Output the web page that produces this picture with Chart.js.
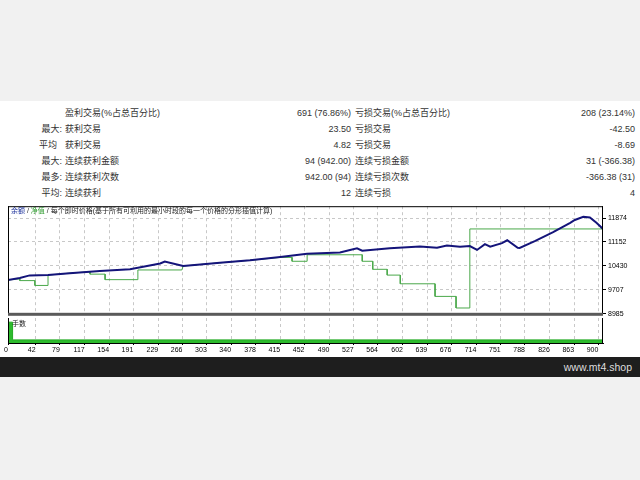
<!DOCTYPE html>
<html>
<head>
<meta charset="utf-8">
<script src="https://cdn.jsdelivr.net/npm/chart.js@4"></script>
<style>
body { margin: 0; width: 640px; height: 480px; background: #f1f1f1; position: relative; overflow: hidden;
       font-family: "Liberation Sans", "Noto Sans CJK SC", sans-serif; }
#panel { position: absolute; left: 0; top: 101px; width: 640px; height: 256px; background: #fff; }
.row { position: absolute; left: 0; width: 640px; height: 16px; line-height: 16px; font-size: 9px; color: #333; }
.row span { position: absolute; top: 0; white-space: nowrap; }
canvas { position: absolute; left: 0; }
#title { position: absolute; left: 11px; top: 206px; font-size: 7px; line-height: 10px; color: #222; white-space: nowrap; }
#lotsLabel { position: absolute; left: 12px; top: 319px; font-size: 7px; line-height: 10px; color: #222; }
#footer { position: absolute; left: 0; top: 357px; width: 640px; height: 20px; background: #1e1e1e; }
#footer span { position: absolute; right: 8px; top: 0; line-height: 20px; font-size: 10.5px; color: #ddd; }
</style>
</head>
<body>
<div id="panel"></div>
<div id="stats"></div>
<canvas id="mainChart" width="640" height="120" style="top:200px"></canvas>
<canvas id="lotsChart" width="640" height="40" style="top:317px"></canvas>
<div id="title"><span style="color:#1a2f9a">余额</span> / <span style="color:#2e9a2e">净值</span> / 每个即时价格(基于所有可利用的最小时段的每一个价格的分形插值计算)</div>
<div id="lotsLabel">手数</div>
<div id="footer"><span>www.mt4.shop</span></div>

<script>
// 统计表
const statRows = [
  ['', '盈利交易(%占总百分比)', '691 (76.86%)', '亏损交易(%占总百分比)', '208 (23.14%)'],
  ['最大:', '获利交易', '23.50', '亏损交易', '-42.50'],
  ['平均\u00a0\u00a0', '获利交易', '4.82', '亏损交易', '-8.69'],
  ['最大:', '连续获利金额', '94 (942.00)', '连续亏损金额', '31 (-366.38)'],
  ['最多:', '连续获利次数', '942.00 (94)', '连续亏损次数', '-366.38 (31)'],
  ['平均:', '连续获利', '12', '连续亏损', '4']
];

// 图表数据
const tradeTicks = [0, 42, 79, 117, 154, 191, 229, 266, 303, 340, 378, 415, 452, 490, 527, 564, 602, 639, 676, 714, 751, 788, 826, 863, 900];
const valueTicks = [8985, 9707, 10430, 11152, 11874];

const balanceTrade = [0, 18, 33, 61, 94, 140, 186, 232, 239, 267, 293, 323, 369, 415, 456, 506, 532, 540, 582, 628,
                      654, 669, 689, 704, 715, 727, 735, 753, 761, 777, 780, 803, 831, 857, 864, 877, 887, 897, 907];
const balanceValue = [10005, 10065, 10143, 10152, 10211, 10278, 10327, 10502, 10561, 10424, 10473, 10523, 10599, 10698, 10794, 10832, 10960, 10890, 10960, 11013,
                      10978, 11042, 11007, 11028, 10911, 11086, 11007, 11115, 11203, 10978, 10969, 11174, 11445, 11728, 11815, 11912, 11888, 11730, 11544];

const equityTrade = [0, 18, 18, 41, 41, 61, 61, 94, 125, 125, 148, 148, 198, 198, 265, 267, 293, 323, 369, 415,
                     433, 433, 456, 456, 540, 540, 556, 556, 578, 578, 598, 598, 651, 651, 683, 683, 704, 704, 907];
const equityValue = [10005, 10040, 9986, 9986, 9840, 9840, 10152, 10211, 10255, 10181, 10181, 10015, 10015, 10307, 10307, 10424, 10473, 10523, 10599, 10686,
                     10686, 10569, 10569, 10765, 10765, 10569, 10569, 10327, 10327, 10152, 10152, 9890, 9890, 9510, 9510, 9160, 9160, 11544, 11544];

const lotsTrade = [0, 7, 907];
const lotsSize = [1.0, 0.15, 0.15];

// 表格
const stats = document.getElementById('stats');
statRows.forEach(function (r, i) {
  const row = document.createElement('div');
  row.className = 'row';
  row.style.top = (104.5 + i * 16.1) + 'px';
  row.innerHTML =
    '<span style="right:578px">' + r[0] + '</span>' +
    '<span style="left:65px">' + r[1] + '</span>' +
    '<span style="right:289px">' + r[2] + '</span>' +
    '<span style="left:355px">' + r[3] + '</span>' +
    '<span style="right:5px">' + r[4] + '</span>';
  stats.appendChild(row);
});

function toPoints(xs, ys) {
  return xs.map((x, i) => ({ x: x, y: ys[i] }));
}

// 边框
const framePlugin = {
  id: 'frame',
  afterDraw(chart, args, opts) {
    const ctx = chart.ctx;
    const a = chart.chartArea;
    ctx.save();
    ctx.strokeStyle = '#000';
    ctx.lineWidth = 1;
    ctx.beginPath();
    if (opts.top) {
      ctx.moveTo(a.left, a.top + 0.5);
      ctx.lineTo(a.right, a.top + 0.5);
    }
    ctx.moveTo(a.left + 0.5, a.top);
    ctx.lineTo(a.left + 0.5, a.bottom);
    ctx.moveTo(a.right - 0.5, a.top);
    ctx.lineTo(a.right - 0.5, a.bottom);
    ctx.stroke();
    if (opts.sep) {
      ctx.fillStyle = '#5a5a5a';
      ctx.fillRect(a.left, a.bottom - 1, a.right - a.left, 3);
    }
    ctx.restore();
  }
};

const gridGray = '#c8c8c8';
const tickFont = { family: 'Liberation Sans', size: 7 };

new Chart(document.getElementById('mainChart'), {
  type: 'line',
  data: {
    datasets: [
      { data: toPoints(balanceTrade, balanceValue), borderColor: '#14147a', borderWidth: 2, pointRadius: 0, tension: 0 },
      { data: toPoints(equityTrade, equityValue), borderColor: '#4aa84a', borderWidth: 1, pointRadius: 0, tension: 0 }
    ]
  },
  options: {
    responsive: false,
    devicePixelRatio: 1,
    animation: false,
    layout: { padding: { left: 8, top: 5, right: 0, bottom: 4 } },
    plugins: { legend: { display: false }, tooltip: { enabled: false }, frame: { top: true, sep: true } },
    scales: {
      x: {
        type: 'linear', min: 0, max: 907,
        afterBuildTicks: s => { s.ticks = tradeTicks.map(v => ({ value: v })); },
        afterFit: s => { s.height = 0; },
        ticks: { display: false },
        grid: { color: gridGray, drawTicks: false },
        border: { display: false, dash: [3, 3] }
      },
      y: {
        position: 'right', min: 8985, max: 12230,
        afterBuildTicks: s => { s.ticks = valueTicks.map(v => ({ value: v })); },
        afterFit: s => { s.width = 37; },
        ticks: { font: tickFont, color: '#000', padding: 2, callback: v => String(v) },
        grid: { color: gridGray, tickLength: 3, tickColor: '#000' },
        border: { display: false, dash: [3, 3] }
      }
    }
  },
  plugins: [framePlugin]
});

new Chart(document.getElementById('lotsChart'), {
  type: 'line',
  data: {
    datasets: [
      { data: toPoints(lotsTrade, lotsSize), stepped: 'before', borderColor: '#22aa22', borderWidth: 1,
        backgroundColor: '#2dbb2d', fill: 'origin', pointRadius: 0 }
    ]
  },
  options: {
    responsive: false,
    devicePixelRatio: 1,
    animation: false,
    layout: { padding: { left: 8, top: 1, right: 37, bottom: 0 } },
    plugins: { legend: { display: false }, tooltip: { enabled: false }, frame: { top: false, sep: false } },
    scales: {
      x: {
        type: 'linear', min: 0, max: 907,
        afterBuildTicks: s => { s.ticks = tradeTicks.map(v => ({ value: v })); },
        afterFit: s => { s.height = 14; },
        ticks: { font: tickFont, color: '#000', padding: 1, align: 'end', autoSkip: false, maxRotation: 0 },
        grid: { color: gridGray, tickLength: 2, tickColor: '#000' },
        border: { display: true, color: '#000', dash: [3, 3] }
      },
      y: { display: false, min: 0, max: 1.2 }
    }
  },
  plugins: [framePlugin]
});
</script>
</body>
</html>
